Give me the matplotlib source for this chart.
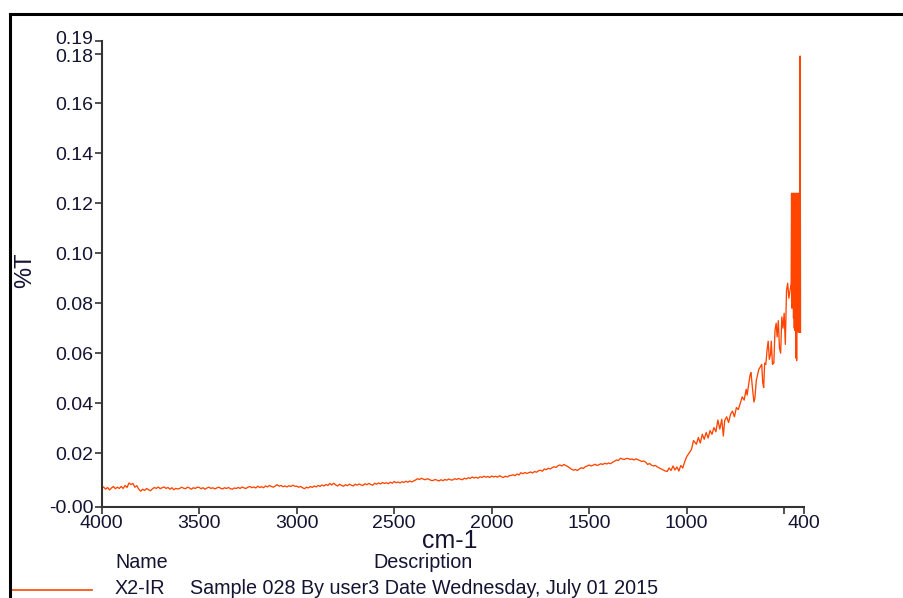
import numpy as np
import matplotlib
matplotlib.use("Agg")
import matplotlib.pyplot as plt
from matplotlib.lines import Line2D
from matplotlib.transforms import ScaledTranslation

plt.rcParams["font.family"] = ["Liberation Sans", "DejaVu Sans"]

# baseline region, sampled every 10 cm-1 from 4000 down to 1000
base_wn = np.arange(4000, 999, -10)
base_t = [
    0.0058, 0.0064, 0.0055, 0.0062, 0.0052, 0.0060, 0.0066, 0.0057, 0.0063, 0.0058,
    0.0066, 0.0058, 0.0070, 0.0062, 0.0080, 0.0074, 0.0078, 0.0063, 0.0069, 0.0055,
    0.0047, 0.0055, 0.0050, 0.0058, 0.0053, 0.0049, 0.0056, 0.0062, 0.0058, 0.0064,
    0.0057, 0.0061, 0.0064, 0.0058, 0.0062, 0.0055, 0.0061, 0.0053, 0.0058, 0.0056,
    0.0058, 0.0063, 0.0059, 0.0057, 0.0063, 0.0060, 0.0055, 0.0061, 0.0058, 0.0063,
    0.0062, 0.0057, 0.0061, 0.0055, 0.0060, 0.0063, 0.0058, 0.0061, 0.0056, 0.0060,
    0.0063, 0.0059, 0.0056, 0.0061, 0.0058, 0.0062, 0.0057, 0.0055, 0.0060, 0.0058,
    0.0062, 0.0058, 0.0064, 0.0060, 0.0058, 0.0063, 0.0066, 0.0061, 0.0064, 0.0060,
    0.0067, 0.0062, 0.0065, 0.0061, 0.0068, 0.0064, 0.0070, 0.0066, 0.0063, 0.0068,
    0.0073, 0.0067, 0.0070, 0.0065, 0.0068, 0.0064, 0.0069, 0.0066, 0.0071, 0.0067,
    0.0067, 0.0063, 0.0066, 0.0061, 0.0057, 0.0063, 0.0060, 0.0066, 0.0062, 0.0068,
    0.0064, 0.0070, 0.0066, 0.0072, 0.0068, 0.0074, 0.0070, 0.0078, 0.0072, 0.0079,
    0.0072, 0.0068, 0.0075, 0.0070, 0.0067, 0.0073, 0.0069, 0.0075, 0.0071, 0.0068,
    0.0075, 0.0071, 0.0076, 0.0072, 0.0070, 0.0077, 0.0073, 0.0078, 0.0074, 0.0071,
    0.0079, 0.0075, 0.0080, 0.0076, 0.0082, 0.0078, 0.0081, 0.0077, 0.0083, 0.0079,
    0.0086, 0.0081, 0.0084, 0.0080, 0.0085, 0.0082, 0.0087, 0.0083, 0.0088, 0.0084,
    0.0088, 0.0092, 0.0097, 0.0094, 0.0099, 0.0095, 0.0093, 0.0097, 0.0094, 0.0090,
    0.0090, 0.0094, 0.0091, 0.0088, 0.0093, 0.0089, 0.0094, 0.0091, 0.0096, 0.0092,
    0.0092, 0.0097, 0.0094, 0.0098, 0.0095, 0.0093, 0.0099, 0.0096, 0.0101, 0.0098,
    0.0104, 0.0100, 0.0103, 0.0099, 0.0105, 0.0102, 0.0107, 0.0103, 0.0106, 0.0102,
    0.0108, 0.0104, 0.0107, 0.0103, 0.0109, 0.0105, 0.0102, 0.0107, 0.0104, 0.0109,
    0.0110, 0.0113, 0.0109, 0.0116, 0.0112, 0.0121, 0.0117, 0.0122, 0.0118, 0.0121,
    0.0124, 0.0120, 0.0126, 0.0123, 0.0129, 0.0131, 0.0127, 0.0136, 0.0133, 0.0139,
    0.0136, 0.0141, 0.0145, 0.0142, 0.0149, 0.0152, 0.0148, 0.0154, 0.0150, 0.0146,
    0.0140, 0.0135, 0.0131, 0.0134, 0.0130, 0.0136, 0.0141, 0.0138, 0.0145, 0.0148,
    0.0152, 0.0148, 0.0151, 0.0155, 0.0150, 0.0153, 0.0157, 0.0154, 0.0159, 0.0156,
    0.0160, 0.0157, 0.0163, 0.0167, 0.0172, 0.0170, 0.0179, 0.0176, 0.0174, 0.0178,
    0.0178, 0.0174, 0.0176, 0.0172, 0.0177, 0.0173, 0.0170, 0.0166, 0.0168, 0.0163,
    0.0154, 0.0158, 0.0151, 0.0148, 0.0150, 0.0144, 0.0140, 0.0136, 0.0132, 0.0128,
    0.0126, 0.0140, 0.0130, 0.0148, 0.0132, 0.0144, 0.0128, 0.0150, 0.0140, 0.0165,
    0.0185,
]

# fingerprint region below 1000 cm-1, noisier so sampled more finely
tail_wn = [
    975, 965, 950, 940, 930, 920, 910, 900, 890, 880,
    870, 860, 850, 840, 830, 820, 812, 805, 795, 785,
    775, 765, 755, 745, 735, 725, 715, 705, 695, 690,
    682, 675, 670, 662, 655, 650, 643, 636, 630, 622,
    615, 610, 605, 600, 594, 588, 582, 576, 570, 566,
    560, 553, 547, 541, 536, 530, 524, 518, 512, 506,
    500, 494, 488, 482, 476, 470, 464, 462, 460, 458,
    456, 454, 452, 450, 448, 446, 444, 442, 440, 438,
    436, 434, 432, 430, 428, 426, 424, 422, 420, 418,
    416,
]
tail_t = [
    0.0215, 0.0250, 0.0235, 0.0262, 0.0240, 0.0275, 0.0255, 0.0282, 0.0260, 0.0290,
    0.0275, 0.0302, 0.0285, 0.0332, 0.0296, 0.0335, 0.0268, 0.0330, 0.0345, 0.0322,
    0.0355, 0.0368, 0.0345, 0.0382, 0.0374, 0.0400, 0.0425, 0.0412, 0.0455, 0.0432,
    0.0475, 0.0512, 0.0522, 0.0455, 0.0404, 0.0420, 0.0490, 0.0515, 0.0535, 0.0545,
    0.0555, 0.0482, 0.0462, 0.0560, 0.0555, 0.0610, 0.0648, 0.0575, 0.0595, 0.0648,
    0.0555, 0.0560, 0.0690, 0.0720, 0.0665, 0.0730, 0.0620, 0.0600, 0.0745, 0.0700,
    0.0760, 0.0635, 0.0850, 0.0880, 0.0820, 0.0850, 0.0880, 0.1240, 0.0780, 0.1240,
    0.0820, 0.1240, 0.0740, 0.1240, 0.0700, 0.1240, 0.0690, 0.1240, 0.0580, 0.1240,
    0.0570, 0.1240, 0.0690, 0.1240, 0.0685, 0.1240, 0.0684, 0.1240, 0.0684, 0.1790,
    0.0684,
]

wavenumber = np.concatenate([base_wn, tail_wn])
transmittance = np.concatenate([base_t, tail_t])

x_ticks = [4000, 3500, 3000, 2500, 2000, 1500, 1000, 500, 400]
x_ticklabels = ["4000", "3500", "3000", "2500", "2000", "1500", "1000", "", "400"]
y_min, y_max = -0.0015, 0.185
y_ticks = [y_min, 0.02, 0.04, 0.06, 0.08, 0.10, 0.12, 0.14, 0.16, 0.18, y_max]
y_ticklabels = ["-0.00", "0.02", "0.04", "0.06", "0.08", "0.10", "0.12",
                "0.14", "0.16", "0.18", "0.19"]

trace_color = "#ff4500"
text_color = "#141432"

fig = plt.figure(figsize=(9.04, 5.98), dpi=100)
ax = fig.add_axes([0.1125, 0.1527, 0.7765, 0.7787])

ax.plot(wavenumber, transmittance, color=trace_color, lw=0.95)

ax.set_xlim(4000, 400)
ax.set_ylim(y_min, y_max)
ax.set_xticks(x_ticks)
ax.set_xticklabels(x_ticklabels)
ax.set_yticks(y_ticks)
ax.set_yticklabels(y_ticklabels)
ax.tick_params(axis="both", direction="out", length=5, width=1.2,
               color="#333333", labelsize=14, labelcolor=text_color, pad=1)

# the top two y labels sit close together; nudge them apart a little
ylabels = ax.get_yticklabels()
ylabels[-1].set_transform(ylabels[-1].get_transform()
                          + ScaledTranslation(0, 2.5 / 72, fig.dpi_scale_trans))
ylabels[-2].set_transform(ylabels[-2].get_transform()
                          + ScaledTranslation(0, -1.5 / 72, fig.dpi_scale_trans))

for side in ("top", "right"):
    ax.spines[side].set_visible(False)
for side in ("left", "bottom"):
    ax.spines[side].set_color("#333333")
    ax.spines[side].set_linewidth(1.5)

fig.text(450 / 904, 1 - 541 / 598, "cm-1", fontsize=18, color=text_color,
         ha="center", va="center")
fig.text(25 / 904, 1 - 270 / 598, "%T", fontsize=17, color=text_color,
         ha="center", va="center", rotation=90)

# legend table below the axis
fig.text(115 / 904, 1 - 562 / 598, "Name", fontsize=14.2, color=text_color, va="center")
fig.text(373 / 904, 1 - 562 / 598, "Description", fontsize=14.2, color=text_color, va="center")
fig.add_artist(Line2D([12 / 904, 92 / 904], [1 - 590 / 598, 1 - 590 / 598],
                      color=trace_color, lw=1.2))
fig.text(115 / 904, 1 - 589 / 598, "X2-IR", fontsize=14.2, color=text_color, va="center")
fig.text(190 / 904, 1 - 589 / 598, "Sample 028 By user3 Date Wednesday, July 01 2015",
         fontsize=14.2, color=text_color, va="center")

# page frame
fig.add_artist(Line2D([10 / 904, 1.0], [1 - 14 / 598, 1 - 14 / 598], color="black", lw=2.2))
fig.add_artist(Line2D([10 / 904, 10 / 904], [0.0, 1 - 14 / 598], color="black", lw=2.2))

fig.savefig("out.png", dpi=100)
